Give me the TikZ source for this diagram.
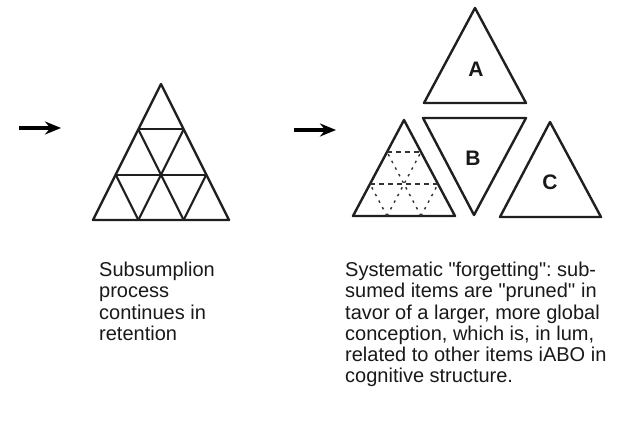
\documentclass[tikz,border=0pt]{standalone}
\usepackage{fontspec}
\setmainfont{Liberation Sans}
\usetikzlibrary{arrows.meta,calc}
\frenchspacing
\begin{document}
\begin{tikzpicture}[x=1pt,y=-1pt,
  tri/.style={draw=black!88, line width=2.4pt, line join=round},
  inner/.style={draw=black!88, line width=2.1pt},
  dashh/.style={draw=black!80, line width=1.4pt, dash pattern=on 5pt off 4pt},
  dashd/.style={draw=black!80, line width=1.4pt, dash pattern=on 2.5pt off 5pt},
  bigarrow/.style={draw=black, line width=4pt, -{Stealth[length=16pt,width=13pt]}},
  letter/.style={font=\fontsize{21}{23}\selectfont\bfseries, text=black!90},
  caption/.style={font=\fontsize{20}{21.2}\selectfont, align=left, anchor=north west, inner sep=0pt, text=black!90}]
\useasboundingbox[fill=white] (0,0) rectangle (629,427);

% arrows
\coordinate (a1s) at (19,128);
\coordinate (a1e) at (61,128);
\coordinate (a2s) at (294,130);
\coordinate (a2e) at (336,130);
\draw[bigarrow] (a1s) -- (a1e);
\draw[bigarrow] (a2s) -- (a2e);

% middle subdivided triangle
\coordinate (T) at (161,84);
\coordinate (L) at (93,220);
\coordinate (R) at (229,220);
\draw[tri] (T) -- (L) -- (R) -- cycle;
\coordinate (l1) at ($(T)!1/3!(L)$);
\coordinate (l2) at ($(T)!2/3!(L)$);
\coordinate (r1) at ($(T)!1/3!(R)$);
\coordinate (r2) at ($(T)!2/3!(R)$);
\coordinate (b1) at ($(L)!1/3!(R)$);
\coordinate (b2) at ($(L)!2/3!(R)$);
\draw[inner] (l1) -- (r1);
\draw[inner] (l2) -- (r2);
\draw[inner] (b1) -- (r1);
\draw[inner] (b2) -- (r2);
\draw[inner] (b1) -- (l2);
\draw[inner] (b2) -- (l1);

% dotted triangle
\coordinate (DT) at (404,120);
\coordinate (DL) at (353,216);
\coordinate (DR) at (455,216);
\draw[tri] (DT) -- (DL) -- (DR) -- cycle;
\coordinate (dl1) at ($(DT)!1/3!(DL)$);
\coordinate (dl2) at ($(DT)!2/3!(DL)$);
\coordinate (dr1) at ($(DT)!1/3!(DR)$);
\coordinate (dr2) at ($(DT)!2/3!(DR)$);
\coordinate (db1) at ($(DL)!1/3!(DR)$);
\coordinate (db2) at ($(DL)!2/3!(DR)$);
\draw[dashh] (dl1) -- (dr1);
\draw[dashh] (dl2) -- (dr2);
\draw[dashd] (db1) -- (dr1);
\draw[dashd] (db2) -- (dr2);
\draw[dashd] (db1) -- (dl2);
\draw[dashd] (db2) -- (dl1);

% triangle A
\draw[tri] (475,8) -- (424,103) -- (526,103) -- cycle;
\node[letter] (A) at (476,69) {A};
% triangle B (inverted)
\draw[tri] (423,118) -- (526,118) -- (474,215) -- cycle;
\node[letter] (B) at (473,158) {B};
% triangle C
\draw[tri] (550,122) -- (500,217) -- (601,217) -- cycle;
\node[letter] (C) at (550,182) {C};

% captions
\node[caption] (cap1) at (99,262) {Subsumplion\\process\\continues in\\retention};
\node[caption] (cap2) at (345,262) {Systematic \textquotedbl forgetting\textquotedbl: sub-\\sumed items are \textquotedbl pruned\textquotesingle\textquotesingle\ in\\tavor of a larger, more global\\conception, which is, in lum,\\related to other items iABO in\\cognitive structure.};
\end{tikzpicture}
\end{document}
